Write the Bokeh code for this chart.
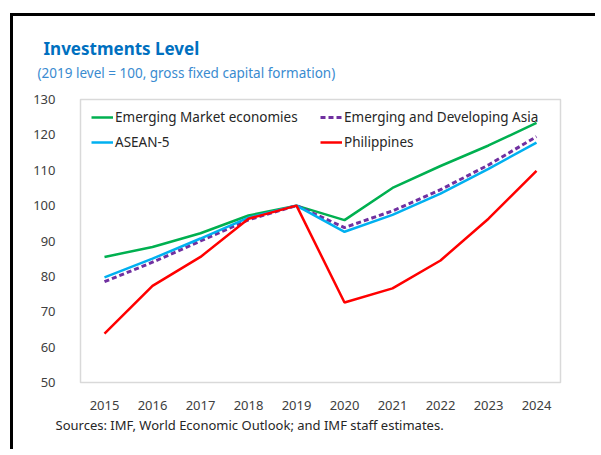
from bokeh.plotting import figure
from bokeh.models import (Range1d, FixedTicker, Legend, LegendItem, Title,
                          ColumnDataSource)
from bokeh.embed import file_html
from bokeh.resources import INLINE

years = [2015, 2016, 2017, 2018, 2019, 2020, 2021, 2022, 2023, 2024]
emerging_market = [85.5, 88.3, 92.2, 97.2, 100.0, 95.9, 105.0, 111.2, 117.0, 123.4]
emerging_asia = [78.5, 84.0, 90.0, 96.0, 100.0, 93.8, 98.5, 104.5, 111.5, 119.5]
asean5 = [79.7, 85.0, 90.7, 96.6, 100.0, 92.6, 97.4, 103.4, 110.4, 117.8]
philippines = [63.8, 77.3, 85.5, 96.3, 100.0, 72.6, 76.6, 84.5, 96.3, 109.8]
series_names = ["Emerging Market economies", "Emerging and Developing Asia",
                "ASEAN-5", "Philippines"]
y_ticks = [50, 60, 70, 80, 90, 100, 110, 120, 130]

FONT = "Noto Sans"
W, H = 585, 436

p = figure(width=W, height=H, output_backend="svg", toolbar_location=None,
           x_range=Range1d(2014.5, 2024.5), y_range=Range1d(50, 130),
           min_border_left=67, min_border_right=38, min_border_top=83,
           min_border_bottom=70)
p.styles = {"border-left": "3px solid black", "border-top": "3px solid black",
            "margin-left": "10px", "margin-top": "13px"}
p.outline_line_color = "#D9D9D9"
p.outline_line_width = 1.5
p.grid.visible = False
p.background_fill_color = "white"
p.border_fill_color = "white"

for ax in (p.xaxis[0], p.yaxis[0]):
    ax.axis_line_color = None
    ax.major_tick_line_color = None
    ax.minor_tick_line_color = None
    ax.major_label_text_font = FONT
    ax.major_label_text_font_size = "13px"
    ax.major_label_text_color = "#404040"
p.xaxis[0].ticker = FixedTicker(ticks=years)
p.yaxis[0].ticker = FixedTicker(ticks=y_ticks)
p.xaxis[0].major_label_standoff = 12
p.yaxis[0].major_label_standoff = 19

src = ColumnDataSource(dict(x=years, em=emerging_market, eda=emerging_asia,
                            asean=asean5, phl=philippines))
r_em = p.line("x", "em", source=src, line_color="#00B050", line_width=2.5)
r_eda = p.line("x", "eda", source=src, line_color="#7030A0", line_width=3,
               line_dash="5 3")
r_as = p.line("x", "asean", source=src, line_color="#00B0F0", line_width=2.5)
r_ph = p.line("x", "phl", source=src, line_color="#FF0000", line_width=2.5)

legend = Legend(items=[
    LegendItem(label=series_names[0], renderers=[r_em]),
    LegendItem(label=series_names[2], renderers=[r_as]),
    LegendItem(label=series_names[1], renderers=[r_eda]),
    LegendItem(label=series_names[3], renderers=[r_ph]),
], ncols=2, location=(11, 230), padding=8, spacing=5, glyph_width=22,
    glyph_height=20, label_standoff=2, label_width=200, label_height=20,
    label_text_font=FONT, label_text_font_size="13.5px",
    label_text_color="#262626", border_line_color=None,
    background_fill_alpha=0)
p.add_layout(legend, "center")

sub = Title(text="(2019 level = 100, gross fixed capital formation)",
            text_font=FONT, text_font_size="13.5px", text_font_style="normal",
            text_color="#3A8BD0", align="left", offset=-43, standoff=36)
p.add_layout(sub, "above")
main = Title(text="Investments Level", text_font=FONT, text_font_size="17px",
             text_font_style="bold", text_color="#0070C0", align="left",
             offset=-37, standoff=-32)
p.add_layout(main, "above")

src_note = Title(text="Sources: IMF, World Economic Outlook; and IMF staff estimates.",
                 text_font=FONT, text_font_size="13px", text_font_style="normal",
                 text_color="#262626", align="left", offset=-25, standoff=3)
p.add_layout(src_note, "below")

open("out.html", "w").write(file_html(p, INLINE))
